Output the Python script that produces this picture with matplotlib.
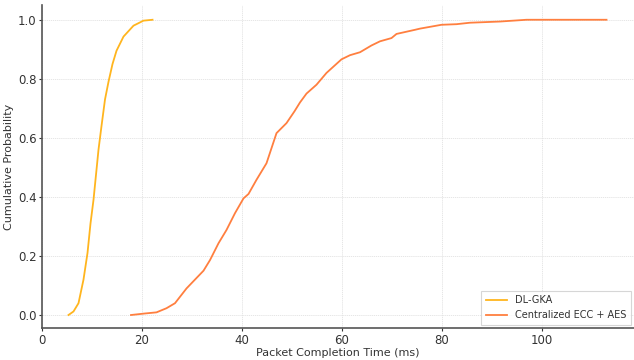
import matplotlib
matplotlib.use("Agg")
import matplotlib.pyplot as plt
import numpy as np

# DL-GKA CDF (time ms, cumulative probability)
dl_time = [5.3, 6.3, 7.3, 8.3, 9.1, 9.7, 10.3, 10.7, 11.3, 11.9, 12.6, 13.3, 14.1, 14.9, 16.3, 18.3, 20.3, 22.1]
dl_prob = [0.0, 0.012, 0.04, 0.12, 0.21, 0.31, 0.39, 0.458, 0.56, 0.64, 0.73, 0.79, 0.85, 0.895, 0.943, 0.98, 0.997, 1.0]

# Centralized ECC + AES CDF
ce_time = [17.8, 20.5, 22.9, 24.9, 26.6, 28.9, 30.6, 32.3, 33.6, 35.3, 36.9, 38.6, 40.3, 41.3, 42.9,
           44.9, 46.9, 48.9, 50.5, 51.6, 52.9, 54.9, 56.9, 59.9, 61.6, 63.6, 65.9, 67.6, 69.9, 70.9,
           74.6, 75.6, 79.9, 82.9, 85.6, 91.6, 96.9, 112.9]
ce_prob = [0.0, 0.005, 0.009, 0.023, 0.04, 0.09, 0.12, 0.15, 0.186, 0.243, 0.288, 0.345, 0.395, 0.41, 0.458,
           0.514, 0.616, 0.65, 0.69, 0.72, 0.75, 0.78, 0.82, 0.866, 0.88, 0.89, 0.913, 0.927, 0.938, 0.952,
           0.966, 0.97, 0.983, 0.985, 0.99, 0.994, 1.0, 1.0]

labels = ["DL-GKA", "Centralized ECC + AES"]
colors = ["#FFB51E", "#FF7F3F"]

fig = plt.figure(figsize=(6.34, 3.6), dpi=100)
ax = fig.add_axes([42/634, 32/360, 1 - 42/634, (328-5)/360])

ax.plot(dl_time, dl_prob, color=colors[0], lw=1.3, label=labels[0])
ax.plot(ce_time, ce_prob, color=colors[1], lw=1.3, label=labels[1])

ax.set_xlim(0, 118.4)
ax.set_ylim(-0.044, 1.05)
ax.set_xticks([0, 20, 40, 60, 80, 100])
ax.set_yticks([0.0, 0.2, 0.4, 0.6, 0.8, 1.0])
ax.grid(True, color="#e2e2e2", linestyle=(0, (1.5, 1)), linewidth=0.6)
for s in ["top", "right"]:
    ax.spines[s].set_visible(False)
for s in ["left", "bottom"]:
    ax.spines[s].set_color("#555555")
    ax.spines[s].set_linewidth(1.2)
ax.tick_params(labelsize=8.5, colors="#333333", length=2, width=0.8, pad=2)
ax.set_xlabel("Packet Completion Time (ms)", fontsize=8, color="#333333", labelpad=1)
ax.set_ylabel("Cumulative Probability", fontsize=8, color="#333333", labelpad=3)
ax.set_title("CDF of Packet Completion Time: DL-GKA vs Centralized Approach", fontsize=9,
             y=1.017, color="#333333")

leg = ax.legend(loc="lower right", fontsize=7, frameon=True, fancybox=False, borderpad=0.5,
                handlelength=2.2, borderaxespad=0.3)
leg.get_frame().set_edgecolor("#cccccc")
leg.get_frame().set_linewidth(0.8)
for t in leg.get_texts():
    t.set_color("#333333")

fig.savefig("out.png", dpi=100)
